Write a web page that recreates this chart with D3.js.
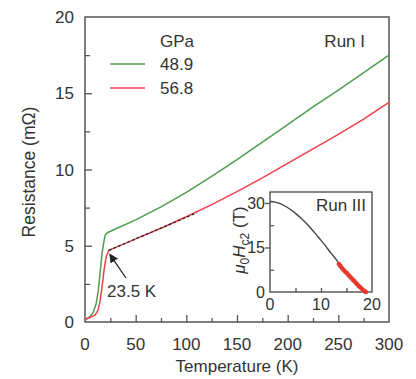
<!DOCTYPE html>
<html>
<head>
<meta charset="utf-8">
<script src="https://cdn.jsdelivr.net/npm/d3@7"></script>
<style>
  body { margin: 0; background: #fff; }
  svg { display: block; font-family: Arial, "Liberation Sans", sans-serif; }
  text { fill: #333; }
</style>
</head>
<body>
<svg id="chart" width="416" height="379"></svg>
<script>
// R(T) curves
const tempGreen = [0, 4, 8, 11, 13, 15, 17, 19, 20, 22, 30, 50, 75, 100, 125, 150, 175, 200, 225, 250, 275, 300];
const resGreen  = [0.1, 0.3, 0.6, 1.2, 2.0, 3.3, 4.6, 5.4, 5.7, 5.85, 6.1, 6.7, 7.55, 8.5, 9.55, 10.65, 11.8, 12.95, 14.1, 15.2, 16.35, 17.5];
const tempRed = [0, 5, 10, 13, 15, 17, 19, 21, 23.5, 50, 75, 100, 125, 150, 175, 200, 225, 250, 275, 300];
const resRed  = [0.2, 0.3, 0.45, 0.8, 1.4, 2.4, 3.5, 4.3, 4.7, 5.45, 6.15, 6.9, 7.7, 8.55, 9.45, 10.4, 11.35, 12.3, 13.3, 14.4];
const fitT = [23.5, 110];
const fitR = [4.7, 7.15];
const pressures = ["48.9", "56.8"];
const seriesColors = ["#4e9e4e", "#ee3f4c"];

// inset: upper critical field
const hcT = [0, 1, 2, 3, 4, 5, 6, 7, 8, 9, 10, 11, 12, 13, 14, 15, 16, 17, 18, 18.8];
const hcH = [30.5, 30.3, 29.8, 28.9, 27.8, 26.5, 25.0, 23.3, 21.5, 19.5, 17.4, 15.3, 13.0, 10.9, 8.6, 6.5, 4.6, 2.8, 1.1, 0];
const ptT = [13.5, 13.8, 14.1, 14.4, 14.7, 15.0, 15.3, 15.6, 15.9, 16.2, 16.5, 16.8, 17.1, 17.4, 17.7, 18.0, 18.3, 18.6, 18.8];
const ptH = [9.4, 8.8, 8.1, 7.5, 6.9, 6.5, 5.9, 5.3, 4.8, 4.2, 3.7, 3.1, 2.6, 2.0, 1.6, 1.1, 0.6, 0.2, 0];

const svg = d3.select("#chart");
const axisColor = "#555";

// main plot area
const m = { left: 85, right: 389, top: 17, bottom: 322 };
const x = d3.scaleLinear().domain([0, 300]).range([m.left, m.right]);
const y = d3.scaleLinear().domain([0, 20]).range([m.bottom, m.top]);

function styleAxis(g) {
  g.select(".domain").remove();
  g.selectAll("line").attr("stroke", axisColor).attr("stroke-width", 1.3);
  g.selectAll("text").attr("fill", "#333");
}

// minor ticks (inward)
svg.append("g").attr("transform", `translate(0,${m.bottom})`)
  .call(d3.axisTop(x).tickValues(d3.range(25, 300, 50)).tickSize(4).tickFormat(""))
  .call(styleAxis);
svg.append("g").attr("transform", `translate(${m.left},0)`)
  .call(d3.axisRight(y).tickValues(d3.range(2.5, 20, 5)).tickSize(5).tickFormat(""))
  .call(styleAxis);
// major ticks
svg.append("g").attr("transform", `translate(0,${m.bottom})`)
  .call(d3.axisTop(x).tickValues(d3.range(50, 300, 50)).tickSize(7).tickFormat(""))
  .call(styleAxis);
svg.append("g").attr("transform", `translate(${m.left},0)`)
  .call(d3.axisRight(y).tickValues(d3.range(5, 20, 5)).tickSize(7).tickFormat(""))
  .call(styleAxis);

// tick labels
svg.append("g").selectAll("text").data(d3.range(0, 301, 50)).join("text")
  .attr("x", d => x(d)).attr("y", 350)
  .attr("text-anchor", "middle").attr("font-size", 17)
  .text(d => d);
svg.append("g").selectAll("text").data(d3.range(0, 21, 5)).join("text")
  .attr("x", 74).attr("y", d => y(d)).attr("dy", "0.36em")
  .attr("text-anchor", "end").attr("font-size", 17)
  .text(d => d);

// frame
svg.append("rect")
  .attr("x", m.left).attr("y", m.top)
  .attr("width", m.right - m.left).attr("height", m.bottom - m.top)
  .attr("fill", "none").attr("stroke", axisColor).attr("stroke-width", 1.5);

// axis titles
svg.append("text").attr("x", 237).attr("y", 372)
  .attr("text-anchor", "middle").attr("font-size", 17)
  .text("Temperature (K)");
svg.append("text")
  .attr("transform", "translate(35,172) rotate(-90)")
  .attr("text-anchor", "middle").attr("font-size", 17.5)
  .text("Resistance (mΩ)");

// curves
const line = d3.line().x(d => x(d[0])).y(d => y(d[1]));
const series = [
  d3.zip(tempGreen, resGreen),
  d3.zip(tempRed, resRed)
];
svg.append("g").selectAll("path").data(series).join("path")
  .attr("d", line)
  .attr("fill", "none")
  .attr("stroke", (d, i) => seriesColors[i])
  .attr("stroke-width", 1.5)
  .attr("stroke-linejoin", "round");

// linear fit (dashed)
svg.append("path")
  .attr("d", line(d3.zip(fitT, fitR)))
  .attr("fill", "none").attr("stroke", "#222")
  .attr("stroke-width", 1.2).attr("stroke-dasharray", "3,2");

// legend
svg.append("text").attr("x", 160).attr("y", 47).attr("font-size", 17).text("GPa");
const leg = svg.append("g").selectAll("g").data(pressures).join("g")
  .attr("transform", (d, i) => `translate(0,${64 + i * 24})`);
leg.append("line").attr("x1", 110).attr("x2", 145)
  .attr("stroke", (d, i) => seriesColors[i]).attr("stroke-width", 1.5);
leg.append("text").attr("x", 160).attr("dy", "0.36em").attr("font-size", 17).text(d => d);

svg.append("text").attr("x", 365).attr("y", 47)
  .attr("text-anchor", "end").attr("font-size", 17).text("Run I");

// Tc annotation with arrow
svg.append("defs").append("marker")
  .attr("id", "head").attr("viewBox", "0 0 10 10")
  .attr("refX", 9).attr("refY", 5)
  .attr("markerWidth", 9).attr("markerHeight", 9)
  .attr("markerUnits", "userSpaceOnUse")
  .attr("orient", "auto")
  .append("path").attr("d", "M0,0 L10,5 L0,10 Z").attr("fill", "#222");
svg.append("line")
  .attr("x1", 126).attr("y1", 278)
  .attr("x2", x(fitT[0]) + 1).attr("y2", y(fitR[0]) + 4)
  .attr("stroke", "#222").attr("stroke-width", 1.3)
  .attr("marker-end", "url(#head)");
svg.append("text").attr("x", 107).attr("y", 297).attr("font-size", 17).text("23.5 K");

// ---- inset ----
const ins = { left: 270, right: 372, top: 192, bottom: 292 };
const ix = d3.scaleLinear().domain([0, 20]).range([ins.left, ins.right]);
const iy = d3.scaleLinear().domain([0, 33.7]).range([ins.bottom, ins.top]);
const inset = svg.append("g");

inset.append("rect")
  .attr("x", ins.left).attr("y", ins.top)
  .attr("width", ins.right - ins.left).attr("height", ins.bottom - ins.top)
  .attr("fill", "#fff").attr("stroke", "#444").attr("stroke-width", 1.3);

inset.append("g").attr("transform", `translate(0,${ins.bottom})`)
  .call(d3.axisTop(ix).tickValues([5, 10, 15]).tickSize(4).tickFormat(""))
  .call(styleAxis);
inset.append("g").attr("transform", `translate(${ins.left},0)`)
  .call(d3.axisRight(iy).tickValues([7.5, 22.5]).tickSize(4).tickFormat(""))
  .call(styleAxis);
inset.append("g").attr("transform", `translate(${ins.left},0)`)
  .call(d3.axisLeft(iy).tickValues([15, 30]).tickSize(5).tickFormat(""))
  .call(styleAxis);

inset.append("g").selectAll("text").data([0, 10, 20]).join("text")
  .attr("x", d => ix(d)).attr("y", 310)
  .attr("text-anchor", "middle").attr("font-size", 16).text(d => d);
inset.append("g").selectAll("text").data([0, 15, 30]).join("text")
  .attr("x", 265).attr("y", d => iy(d)).attr("dy", "0.36em")
  .attr("text-anchor", "end").attr("font-size", 16).text(d => d);

const yl = inset.append("text")
  .attr("transform", "translate(245,240) rotate(-90)")
  .attr("text-anchor", "middle").attr("font-size", 17);
yl.append("tspan").attr("font-style", "italic").text("μ");
yl.append("tspan").attr("font-size", 12).attr("dy", 4).text("0");
yl.append("tspan").attr("font-style", "italic").attr("dy", -4).text("H");
yl.append("tspan").attr("font-size", 12).attr("dy", 4).text("c2");
yl.append("tspan").attr("dy", -4).text(" (T)");

const iline = d3.line().x(d => ix(d[0])).y(d => iy(d[1])).curve(d3.curveMonotoneX);
inset.append("path")
  .attr("d", iline(d3.zip(hcT, hcH)))
  .attr("fill", "none").attr("stroke", "#444").attr("stroke-width", 1.4);
inset.append("g").selectAll("circle").data(d3.zip(ptT, ptH)).join("circle")
  .attr("cx", d => ix(d[0])).attr("cy", d => iy(d[1]))
  .attr("r", 2.3).attr("fill", "#e8372e");

inset.append("text").attr("x", 366).attr("y", 211)
  .attr("text-anchor", "end").attr("font-size", 17).text("Run III");
</script>
</body>
</html>
